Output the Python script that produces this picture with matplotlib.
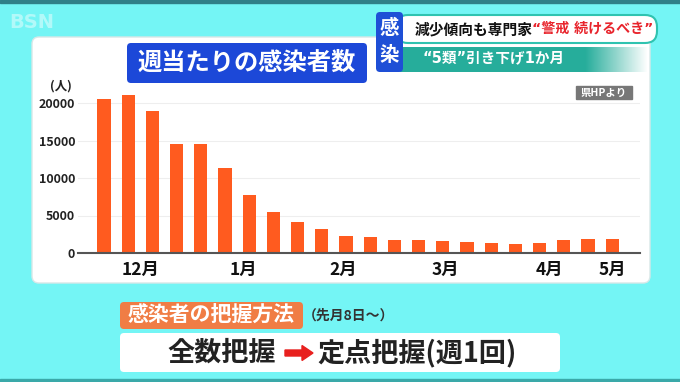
import numpy as np
import matplotlib
matplotlib.use("Agg")
import matplotlib.pyplot as plt
from matplotlib.patches import FancyBboxPatch, Rectangle, FancyArrow

plt.rcParams['font.family'] = ['Noto Sans CJK JP', 'DejaVu Sans']

# weekly new cases
weekly_cases = [20500, 21100, 19000, 14500, 14600, 11400, 7700, 5500, 4100, 3150, 2300,
                2150, 1780, 1690, 1600, 1420, 1330, 1160, 1330, 1690, 1870, 1870]
month_labels = ['12月', '1月', '2月', '3月', '4月', '5月']
month_pos = [1.5, 5.75, 9.9, 14.1, 18.4, 21.0]
y_ticks = [0, 5000, 10000, 15000, 20000]

title = '週当たりの感染者数'
headline_black = '減少傾向も専門家'
headline_red = '“警戒 続けるべき”'
subline = '“5類”引き下げ1か月'
source = '県HPより'
method_label = '感染者の把握方法'
method_since = '（先月8日〜）'
method_old = '全数把握'
method_new = '定点把握(週1回)'

cyan = '#74f5f5'
bar_color = '#ff5b1f'

fig = plt.figure(figsize=(6.8, 3.82), dpi=100, facecolor=cyan)

# background layer in pixel coordinates
bg = fig.add_axes([0, 0, 1, 1])
bg.set_xlim(0, 680)
bg.set_ylim(382, 0)
bg.axis('off')

bg.add_patch(Rectangle((0, 0), 680, 3, color='#2f8088'))
bg.add_patch(Rectangle((0, 379), 680, 3, color='#3aa9a9'))
bg.text(32, 22, 'BSN', color='white', alpha=0.45, fontsize=14, fontweight='bold',
        ha='center', va='center', family=['DejaVu Sans'])

# white chart panel
bg.add_patch(FancyBboxPatch((32, 37), 618, 246, boxstyle='round,pad=0,rounding_size=7',
                            fc='white', ec='#d8e8e8', lw=1))

# chart title box
bg.add_patch(FancyBboxPatch((127, 43), 240, 40, boxstyle='round,pad=0,rounding_size=4',
                            fc='#1c48d8', ec='none'))
bg.text(247, 63, title, color='white', fontsize=17.5, fontweight='bold', ha='center', va='center')

# headline
bg.add_patch(FancyBboxPatch((396, 15), 261, 28, boxstyle='round,pad=0,rounding_size=12',
                            fc='white', ec='#2fc3b0', lw=1.5))
grad = np.ones((1, 256, 4))
teal = np.array([0.15, 0.68, 0.61])
grad[0, :, :3] = teal
alpha = np.clip((1.0 - np.linspace(0, 1, 256)) / 0.25, 0, 1)
grad[0, :, 3] = alpha
bg.imshow(grad, extent=(400, 648, 72, 47), aspect='auto', interpolation='bilinear', zorder=2)
bg.add_patch(FancyBboxPatch((376, 12), 27, 60, boxstyle='round,pad=0,rounding_size=4',
                            fc='#1e4fd6', ec='none', zorder=3))
bg.text(389.5, 28, '感', color='white', fontsize=14, fontweight='bold', ha='center', va='center', zorder=4)
bg.text(389.5, 55, '染', color='white', fontsize=14, fontweight='bold', ha='center', va='center', zorder=4)
bg.text(415, 29, headline_black, color='#111111', fontsize=10.6, fontweight='bold',
        ha='left', va='center', zorder=4)
bg.text(532, 29, headline_red, color='#e8242c', fontsize=10.1, fontweight='bold',
        ha='left', va='center', zorder=4, family=['DejaVu Sans', 'Noto Sans CJK JP'])
bg.text(423, 59, subline, color='white', fontsize=10.5, fontweight='bold',
        ha='left', va='center', zorder=4, family=['DejaVu Sans', 'Noto Sans CJK JP'])

# source tag
bg.add_patch(Rectangle((576, 86), 56, 13, color='#777777'))
bg.text(604, 92.5, source, color='white', fontsize=7.5, fontweight='bold', ha='center', va='center')
bg.text(61, 86, '(人)', color='#222222', fontsize=9, fontweight='bold', ha='center', va='center')

# bottom caption
bg.add_patch(FancyBboxPatch((120, 302), 183, 27, boxstyle='round,pad=0,rounding_size=4',
                            fc='#f07d45', ec='none'))
bg.text(211.5, 315.5, method_label, color='white', fontsize=15, fontweight='bold', ha='center', va='center')
bg.text(303, 316, method_since, color='#333333', fontsize=10, fontweight='bold', ha='left', va='center')
bg.add_patch(FancyBboxPatch((120, 333), 440, 39, boxstyle='round,pad=0,rounding_size=4',
                            fc='white', ec='none'))
bg.text(276, 353, method_old, color='#222222', fontsize=19.5, fontweight='bold', ha='right', va='center')
bg.add_patch(FancyArrow(285, 353, 28, 0, width=6, head_width=15, head_length=11,
                        length_includes_head=True, color='#e8201e'))
bg.text(317, 353, method_new, color='#222222', fontsize=19.5, fontweight='bold', ha='left', va='center')

# chart
ax = fig.add_axes([78 / 680, 1 - 253 / 382, 562 / 680, 165 / 382])
ax.patch.set_alpha(0)
x = np.arange(len(weekly_cases))
ax.bar(x, weekly_cases, width=0.54, color=bar_color, zorder=3)
ax.set_xlim((78 - 104) / 24.2, (640 - 104) / 24.2)
ax.set_ylim(0, 22000)
ax.set_yticks(y_ticks)
ax.set_yticklabels([str(v) for v in y_ticks], fontsize=9, fontweight='bold', color='#222222')
ax.set_xticks(month_pos)
ax.set_xticklabels(month_labels, fontsize=12.5, fontweight='bold', color='#111111')
ax.tick_params(axis='both', length=0)
ax.tick_params(axis='y', pad=2)
ax.tick_params(axis='x', pad=6)
ax.grid(axis='y', color='#eeeeee', lw=0.8, zorder=0)
for s in ['top', 'right', 'left']:
    ax.spines[s].set_visible(False)
ax.spines['bottom'].set_color('#555555')
ax.spines['bottom'].set_linewidth(1.5)
ax.spines['bottom'].set_zorder(4)

fig.savefig('out.png', dpi=100, facecolor=cyan)
